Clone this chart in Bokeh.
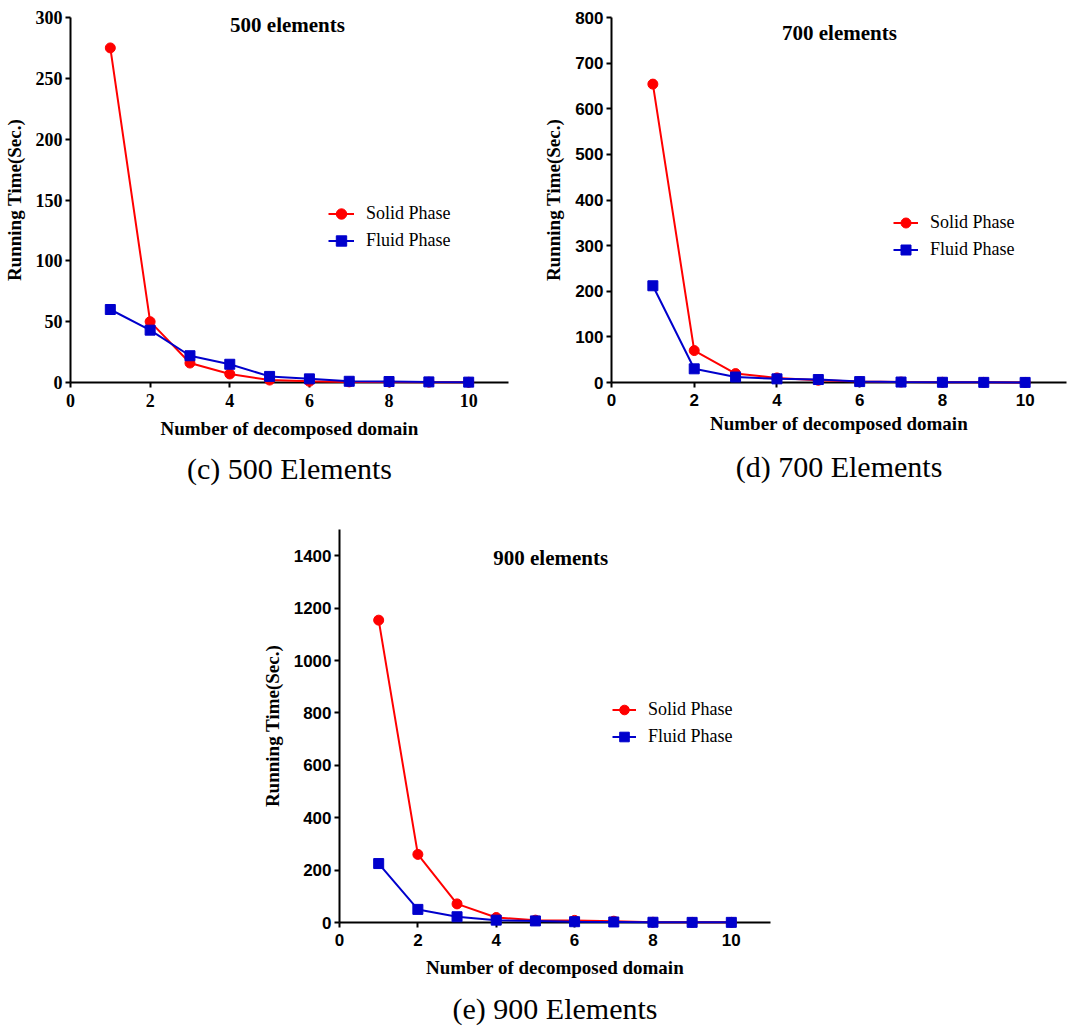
from bokeh.plotting import figure
from bokeh.models import FixedTicker, Label, Legend, LegendItem, Title, Range1d
from bokeh.layouts import column, row
from bokeh.embed import file_html
from bokeh.resources import INLINE

domains = [1, 2, 3, 4, 5, 6, 7, 8, 9, 10]
solid_500 = [275, 50, 16, 7, 2, 1, 0.5, 0.5, 0.3, 0.2]
fluid_500 = [60, 43, 22, 15, 5, 3, 1, 0.8, 0.5, 0.3]
solid_700 = [654, 70, 19.5, 10, 5, 2, 1, 0.5, 0.3, 0.2]
fluid_700 = [212, 30, 12, 8, 6.5, 2, 1, 0.5, 0.3, 0.2]
solid_900 = [1154, 260, 71, 19, 9, 8, 5, 1, 0.5, 0.5]
fluid_900 = [225, 50, 22, 9, 6, 3, 2, 1, 0.5, 0.5]
x_ticks = [0, 2, 4, 6, 8, 10]
y_ticks_500 = [0, 50, 100, 150, 200, 250, 300]
y_ticks_700 = [0, 100, 200, 300, 400, 500, 600, 700, 800]
y_ticks_900 = [0, 200, 400, 600, 800, 1000, 1200, 1400]

RED = "#ff0000"
BLUE = "#0000cc"
SERIF = "Liberation Serif"
SANS = "Liberation Sans"


def make_panel(solid, fluid, yticks, ymax, title, caption, tick_font, tick_size,
               fw, fh, bl, br, bt, bb, title_xy, legend_xy, glyph_w,
               xlabel_standoff, cap_standoff):
    p = figure(frame_width=fw, frame_height=fh, min_border_left=bl,
               min_border_right=br, min_border_top=bt, min_border_bottom=bb,
               x_range=Range1d(0, 11), y_range=Range1d(0, ymax),
               output_backend="svg", toolbar_location=None)
    p.outline_line_color = None
    p.xgrid.visible = False
    p.ygrid.visible = False
    p.background_fill_color = "white"

    for ax, ticks in ((p.xaxis[0], x_ticks), (p.yaxis[0], yticks)):
        ax.ticker = FixedTicker(ticks=ticks)
        ax.minor_tick_line_color = None
        ax.axis_line_width = 2
        ax.axis_line_color = "black"
        ax.major_tick_line_width = 2
        ax.major_tick_line_color = "black"
        ax.major_tick_out = 5
        ax.major_tick_in = 0
        ax.major_label_text_font = tick_font
        ax.major_label_text_font_style = "bold"
        ax.major_label_text_font_size = tick_size
        ax.major_label_text_color = "black"
        ax.axis_label_text_font = SERIF
        ax.axis_label_text_font_style = "bold"
        ax.axis_label_text_font_size = "19px"
        ax.axis_label_text_color = "black"
    p.xaxis.axis_label = "Number of decomposed domain"
    p.yaxis.axis_label = "Running Time(Sec.)"
    p.xaxis.major_label_standoff = 6
    p.xaxis.axis_label_standoff = xlabel_standoff
    p.yaxis.major_label_standoff = 3
    p.yaxis.axis_label_standoff = 8

    sl = p.line(domains, solid, line_color=RED, line_width=2, level="overlay")
    sm = p.scatter(domains, solid, marker="circle", size=10, fill_color=RED,
                   line_color=RED, level="overlay")
    fl = p.line(domains, fluid, line_color=BLUE, line_width=2, level="overlay")
    fm = p.scatter(domains, fluid, marker="square", size=10, fill_color=BLUE,
                   line_color=BLUE, level="overlay")

    legend = Legend(items=[LegendItem(label="Solid Phase", renderers=[sl, sm]),
                           LegendItem(label="Fluid Phase", renderers=[fl, fm])],
                    location=legend_xy, padding=0, margin=0, spacing=0,
                    glyph_width=glyph_w, glyph_height=27, label_height=27,
                    label_standoff=12, border_line_color=None,
                    background_fill_alpha=0, label_text_font=SERIF,
                    label_text_font_size="18px", label_text_color="black")
    p.add_layout(legend, "center")

    p.add_layout(Label(x=title_xy[0], y=title_xy[1], text=title,
                       text_font=SERIF, text_font_style="bold",
                       text_font_size="21px", text_align="center",
                       text_baseline="middle", text_color="black"))

    p.add_layout(Title(text=caption, align="center", text_font=SERIF,
                       text_font_style="normal", text_font_size="30px",
                       text_color="black", standoff=cap_standoff), "below")
    return p


pc = make_panel(solid_500, fluid_500, y_ticks_500, 300, "500 elements",
                "(c) 500 Elements", SERIF, "18px",
                438, 365, 70, 32, 17, 118, (5.45, 294.2), (258, 128), 26, 8, 17)
pd = make_panel(solid_700, fluid_700, y_ticks_700, 800, "700 elements",
                "(d) 700 Elements", SANS, "17px",
                455, 365, 69, 3, 17, 118, (5.51, 765), (282, 119), 25, 4, 22)
pe = make_panel(solid_900, fluid_900, y_ticks_900, 1500, "900 elements",
                "(e) 900 Elements", SANS, "17px",
                431, 393, 339, 30, 29, 104, (5.39, 1393), (273, 172), 24, 8, 18)

layout = column(row(pc, pd), pe)
open("out.html", "w").write(file_html(layout, INLINE))
